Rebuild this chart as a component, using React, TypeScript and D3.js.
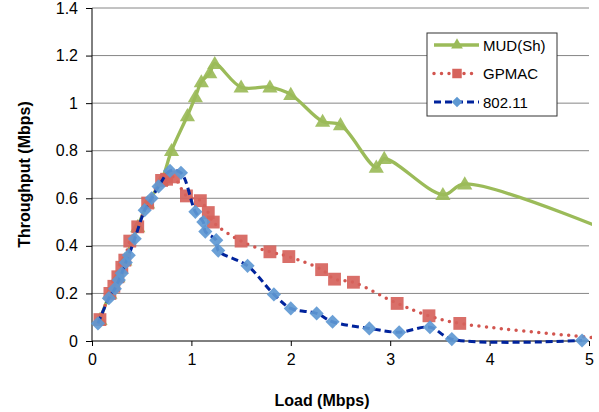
import React, { useEffect, useRef } from "react";
import * as d3 from "d3";

// series values (x = load, y = throughput, Mbps)
const MUD_X = [0.08, 0.18, 0.26, 0.33, 0.46, 0.56, 0.7, 0.8, 0.96, 1.04, 1.1, 1.185, 1.235, 1.5, 1.79, 2.0, 2.32, 2.5, 2.86, 2.94, 3.53, 3.75, 5.5];
const MUD_Y = [0.09, 0.2, 0.27, 0.34, 0.48, 0.58, 0.675, 0.8, 0.947, 1.026, 1.089, 1.127, 1.166, 1.067, 1.067, 1.036, 0.923, 0.909, 0.73, 0.767, 0.615, 0.66, 0.41];

const GPMAC_X = [0.08, 0.18, 0.22, 0.26, 0.3, 0.33, 0.38, 0.46, 0.56, 0.7, 0.75, 0.82, 0.95, 1.09, 1.17, 1.22, 1.5, 1.79, 1.98, 2.31, 2.44, 2.63, 3.07, 3.39, 3.7, 5.3];
const GPMAC_Y = [0.09, 0.2, 0.23, 0.27, 0.31, 0.34, 0.42, 0.48, 0.58, 0.675, 0.68, 0.69, 0.61, 0.59, 0.54, 0.5, 0.42, 0.375, 0.355, 0.3, 0.26, 0.247, 0.158, 0.106, 0.074, 0.005];

const WIFI_X = [0.06, 0.17, 0.23, 0.27, 0.3, 0.34, 0.37, 0.43, 0.53, 0.6, 0.67, 0.785, 0.895, 1.04, 1.12, 1.14, 1.25, 1.27, 1.565, 1.83, 2.0, 2.26, 2.42, 2.79, 3.09, 3.4, 3.62, 4.93];
const WIFI_Y = [0.074, 0.18, 0.22, 0.256, 0.285, 0.33, 0.36, 0.43, 0.55, 0.6, 0.65, 0.715, 0.707, 0.543, 0.5, 0.46, 0.424, 0.38, 0.316, 0.196, 0.137, 0.116, 0.081, 0.053, 0.037, 0.058, 0.008, 0.002];

const X_TICKS = [0, 1, 2, 3, 4, 5];
const Y_TICKS = [0, 0.2, 0.4, 0.6, 0.8, 1, 1.2, 1.4];
const SERIES_NAMES = ["MUD(Sh)", "GPMAC", "802.11"];

const W = 599;
const H = 412;

export default function App() {
  const svgRef = useRef<SVGSVGElement>(null);

  useEffect(() => {
    const svg = d3.select(svgRef.current);
    svg.selectAll("*").remove();

    const font = "Liberation Sans, Arial, sans-serif";
    const x = d3.scaleLinear().domain([0, 5]).range([92, 589]);
    const y = d3.scaleLinear().domain([0, 1.4]).range([341, 8]);

    svg.append("defs").append("clipPath").attr("id", "plot")
      .append("rect").attr("x", 88).attr("y", 0).attr("width", 504).attr("height", 350);

    // Grid lines
    svg.selectAll(".grid")
      .data(Y_TICKS.filter(d => d > 0))
      .join("line")
      .attr("x1", x(0)).attr("x2", x(5))
      .attr("y1", d => y(d)).attr("y2", d => y(d))
      .attr("stroke", "#868686").attr("stroke-width", 1);

    // Axes
    svg.append("g")
      .attr("transform", `translate(0,${y(0)})`)
      .call(d3.axisBottom(x).tickValues(X_TICKS).tickSize(5).tickPadding(8).tickFormat(d3.format("d")))
      .call(g => g.select(".domain").attr("stroke", "#000").attr("d", `M${x(0)},0H${x(5)}`))
      .call(g => g.selectAll(".tick line").attr("stroke", "#000"))
      .call(g => g.selectAll(".tick text").attr("fill", "#000").style("font-family", font).style("font-size", "16px"));

    svg.append("g")
      .attr("transform", `translate(${x(0)},0)`)
      .call(d3.axisLeft(y).tickValues(Y_TICKS).tickSize(6).tickPadding(8).tickFormat(d => String(+(+d).toFixed(1))))
      .call(g => g.select(".domain").attr("stroke", "#000").attr("d", `M0,${y(1.4)}V${y(0)}`))
      .call(g => g.selectAll(".tick line").attr("stroke", "#000"))
      .call(g => g.selectAll(".tick text").attr("fill", "#000").style("font-family", font).style("font-size", "16px"));

    // Axis titles
    svg.append("text")
      .attr("x", 322).attr("y", 406)
      .attr("text-anchor", "middle")
      .style("font-family", font).style("font-size", "16px").style("font-weight", 700)
      .text("Load (Mbps)");

    svg.append("text")
      .attr("transform", `translate(30,${(y(0) + y(1.4)) / 2}) rotate(-90)`)
      .attr("text-anchor", "middle")
      .style("font-family", font).style("font-size", "16px").style("font-weight", 700)
      .text("Throughput (Mbps)");

    const plot = svg.append("g").attr("clip-path", "url(#plot)");
    const line = d3.line<[number, number]>()
      .x(d => x(d[0])).y(d => y(d[1]))
      .curve(d3.curveCatmullRom.alpha(0.5));

    const tri = d3.symbol().type(d3.symbolTriangle).size(100);
    const sq = d3.symbol().type(d3.symbolSquare).size(165);
    const dia = d3.symbol().type(d3.symbolSquare).size(100);

    const styles = [
      { xs: MUD_X, ys: MUD_Y, stroke: "#9BBB59", width: 3.3, dash: null, cap: "butt", marker: tri, fill: "#9BBB59", rot: 0, dy: 1 },
      { xs: GPMAC_X, ys: GPMAC_Y, stroke: "#D2554F", width: 3.5, dash: "0,7.5", cap: "round", marker: sq, fill: "#D6635C", rot: 0, dy: 0 },
      { xs: WIFI_X, ys: WIFI_Y, stroke: "#00239C", width: 3, dash: "7,4", cap: "butt", marker: dia, fill: "#5E98D2", rot: 45, dy: 0 },
    ];

    styles.forEach(s => {
      const pts: [number, number][] = s.xs.map((v, i) => [v, s.ys[i]]);
      plot.append("path")
        .attr("d", line(pts))
        .attr("fill", "none")
        .attr("stroke", s.stroke)
        .attr("stroke-width", s.width)
        .attr("stroke-linecap", s.cap)
        .attr("stroke-dasharray", s.dash);
      plot.selectAll(null)
        .data(pts.filter(p => p[0] <= 5))
        .join("path")
        .attr("d", s.marker)
        .attr("transform", p => `translate(${x(p[0])},${y(p[1]) + s.dy}) rotate(${s.rot})`)
        .attr("fill", s.fill)
        .attr("fill-opacity", 0.92);
    });

    // Legend
    const lg = svg.append("g").attr("transform", "translate(427,33)");
    lg.append("rect")
      .attr("width", 130).attr("height", 83)
      .attr("fill", "#fff").attr("stroke", "#333").attr("stroke-width", 1);
    const legendMarks = [
      d3.symbol().type(d3.symbolTriangle).size(60)(),
      d3.symbol().type(d3.symbolSquare).size(90)(),
      d3.symbol().type(d3.symbolSquare).size(55)(),
    ];
    styles.forEach((s, i) => {
      const cy = 12 + i * 28.5;
      const row = lg.append("g").attr("transform", `translate(0,${cy})`);
      row.append("line")
        .attr("x1", 7).attr("x2", 52).attr("y1", 0).attr("y2", 0)
        .attr("stroke", s.stroke).attr("stroke-width", s.width)
        .attr("stroke-linecap", s.cap).attr("stroke-dasharray", s.dash);
      row.append("path")
        .attr("d", legendMarks[i])
        .attr("transform", `translate(30,0) rotate(${s.rot})`)
        .attr("fill", s.fill);
      row.append("text")
        .attr("x", 56).attr("y", 5.5)
        .style("font-family", font).style("font-size", "15px")
        .text(SERIES_NAMES[i]);
    });
  }, []);

  return (
    <div style={{ position: "absolute", left: 0, top: 0, width: W, height: H, background: "#fff" }}>
      <svg ref={svgRef} width={W} height={H} />
    </div>
  );
}
